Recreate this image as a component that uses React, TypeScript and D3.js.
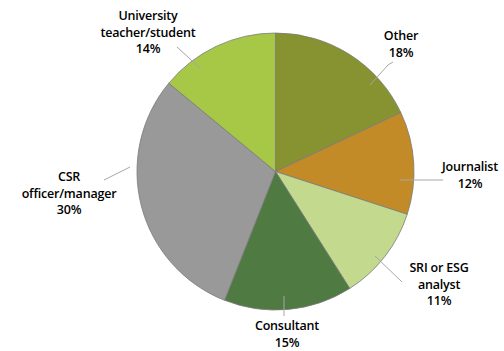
import React from "react";
import * as d3 from "d3";

const categories = ["Other", "Journalist", "SRI or ESG analyst", "Consultant", "CSR officer/manager", "University teacher/student"];
const values = [18, 12, 11, 15, 30, 14];
const colors = ["#879330", "#C38A28", "#C3DA8E", "#4F7A42", "#999999", "#A6C846"];
const labelLines = [["Other", "18%"], ["Journalist", "12%"], ["SRI or ESG", "analyst", "11%"], ["Consultant", "15%"], ["CSR", "officer/manager", "30%"], ["University", "teacher/student", "14%"]];

// layout: label text centre x, first baseline y; leader line points
const labelPos = [[401, 40], [470, 171], [439, 272], [287, 330], [69, 181], [148, 20]];
const leaders = [[[393, 62], [388, 65], [370, 85]], [[443, 180], [400, 180]], [[402, 282], [375, 256]], [[284, 316], [284, 296]], [[104, 180], [130, 167]], [[177, 47], [200, 68]]];

const W = 504, H = 351;
const cx = 275.5, cy = 171.5, R = 138.5;

export default function App() {
  const pie = d3.pie<number>().sort(null).value((d) => d)(values);
  const arc = d3.arc<d3.PieArcDatum<number>>().innerRadius(0).outerRadius(R);
  const line = d3.line();
  return (
    <svg width={W} height={H} style={{ position: "absolute", left: 0, top: 0, background: "#fff" }}
      fontFamily="'Open Sans', Lato, sans-serif">
      <g transform={`translate(${cx},${cy})`}>
        {pie.map((p, i) => (
          <path key={categories[i]} d={arc(p) || ""} fill={colors[i]} stroke="#7a7a7a" strokeWidth={0.8} />
        ))}
      </g>
      {leaders.map((pts, i) => (
        <path key={"l" + i} d={line(pts as [number, number][]) || ""} fill="none" stroke="#a6a6a6" strokeWidth={1} />
      ))}
      {labelLines.map((lines, i) => (
        <text key={"t" + i} x={labelPos[i][0]} y={labelPos[i][1]} textAnchor="middle" fontSize={12.5} fontWeight={600} fill="#000" letterSpacing={-0.2}>
          {lines.map((s, j) => (
            <tspan key={j} x={labelPos[i][0]} dy={j === 0 ? 0 : 16.5}>{s}</tspan>
          ))}
        </text>
      ))}
    </svg>
  );
}
